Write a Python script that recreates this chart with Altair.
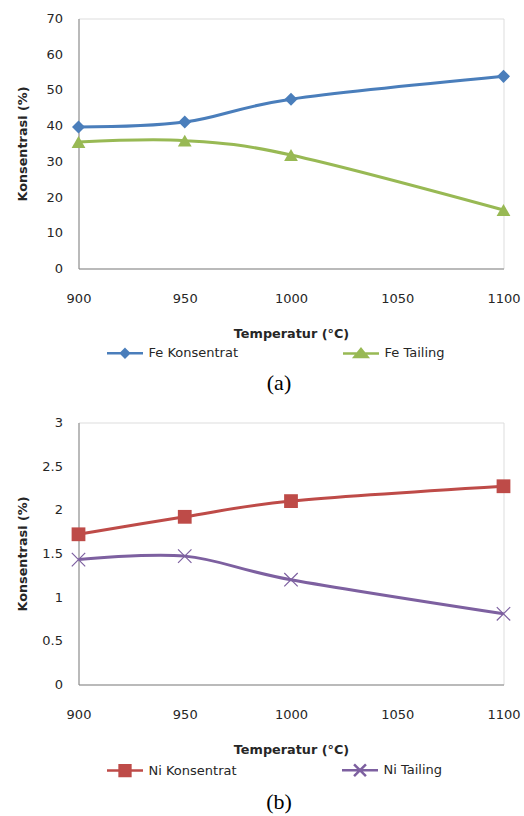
import altair as alt
import pandas as pd

# ---- data ----
temps = [900, 950, 1000, 1100]
fe_konsentrat = [39.6, 41.0, 47.4, 53.8]
fe_tailing = [35.4, 35.8, 31.8, 16.4]
ni_konsentrat = [1.72, 1.92, 2.10, 2.27]
ni_tailing = [1.43, 1.47, 1.20, 0.81]

fe_series = ["Fe Konsentrat", "Fe Tailing"]
ni_series = ["Ni Konsentrat", "Ni Tailing"]
x_ticks = [900, 950, 1000, 1050, 1100]
fe_y_ticks = [0, 10, 20, 30, 40, 50, 60, 70]
ni_y_ticks = [0, 0.5, 1, 1.5, 2, 2.5, 3]

# ---- styles ----
FONT = "DejaVu Sans"
fe_colors = ["#4A7EBB", "#98B954"]
ni_colors = ["#BE4B48", "#7D60A0"]
fe_markers = [
    dict(shape="diamond", filled=True, size=170, sw=1),
    dict(shape="triangle-up", filled=True, size=190, sw=1),
]
ni_markers = [
    dict(shape="square", filled=True, size=190, sw=1),
    dict(shape="M-1,-1L1,1M-1,1L1,-1", filled=False, size=180, sw=1.2),
]
LINE = "M-1,0L1,0"
fe_leg_paths = [
    LINE + "M0,-0.22L0.22,0L0,0.22L-0.22,0Z",
    LINE + "M0,-0.25L0.36,0.2L-0.36,0.2Z",
]
ni_leg_paths = [
    LINE + "M-0.3,-0.3L0.3,-0.3L0.3,0.3L-0.3,0.3Z",
    LINE + "M-0.33,-0.33L0.33,0.33M-0.33,0.33L0.33,-0.33",
]


def panel(series, values, colors, markers, leg_paths, ymax, yticks, yfmt,
          height, caption, legend_y):
    rows = []
    for name, vals in zip(series, values):
        for t, v in zip(temps, vals):
            rows.append({"temp": t, "value": v, "series": name})
    df = pd.DataFrame(rows)
    base = alt.Chart(df)

    x = alt.X(
        "temp:Q",
        scale=alt.Scale(domain=[900, 1100], nice=False, zero=False),
        axis=alt.Axis(
            values=x_ticks, format="d", title="Temperatur (°C)",
            grid=False, ticks=False, tickSize=0,
            domainColor="#868686", domainWidth=1,
            labelFont=FONT, labelFontSize=13, labelColor="#262626",
            labelPadding=30, labelBaseline="middle", labelFlush=False,
            titleFont=FONT, titleFontSize=12.8, titleFontWeight="bold",
            titleColor="#262626", titleY=65, titleBaseline="middle",
        ),
    )
    y = alt.Y(
        "value:Q",
        scale=alt.Scale(domain=[0, ymax], nice=False, zero=True),
        axis=alt.Axis(
            values=yticks, format=yfmt, title="Konsentrasi (%)",
            grid=False, ticks=False, tickSize=0,
            domainColor="#868686", domainWidth=1,
            labelFont=FONT, labelFontSize=13, labelColor="#262626",
            labelPadding=16, labelFlush=False,
            titleFont=FONT, titleFontSize=12.8, titleFontWeight="bold",
            titleColor="#262626", titleX=-56, titleBaseline="middle",
        ),
    )

    layers = []
    for name, color, mk in zip(series, colors, markers):
        sub = base.transform_filter(alt.datum.series == name)
        layers.append(
            sub.mark_line(interpolate="cardinal", color=color, strokeWidth=3)
            .encode(x=x, y=y)
        )
        layers.append(
            sub.mark_point(shape=mk["shape"], filled=mk["filled"], color=color,
                           size=mk["size"], opacity=1, strokeWidth=mk["sw"])
            .encode(x=x, y=y)
        )

    leg = alt.Legend(
        title=None, orient="none", legendX=27, legendY=legend_y,
        direction="horizontal", columns=2, columnPadding=99, padding=0,
        symbolSize=1296, symbolStrokeWidth=2.5,
        labelFont=FONT, labelFontSize=13, labelColor="#262626",
        labelOffset=4,
    )
    legend_layer = (
        base.transform_filter("false")
        .mark_point(filled=True, opacity=1)
        .encode(
            x=x, y=y,
            fill=alt.Fill("series:N", scale=alt.Scale(domain=series, range=colors), legend=leg),
            stroke=alt.Stroke("series:N", scale=alt.Scale(domain=series, range=colors), legend=leg),
            shape=alt.Shape("series:N", scale=alt.Scale(domain=series, range=leg_paths), legend=leg),
        )
    )
    layers.append(legend_layer)

    return alt.layer(*layers).properties(
        width=425, height=height,
        title=alt.TitleParams(
            text=caption, orient="bottom", font="Liberation Serif",
            fontSize=22, fontWeight="normal", color="black",
            offset=10, dx=-12, anchor="middle",
        ),
    )


top = panel(fe_series, [fe_konsentrat, fe_tailing], fe_colors, fe_markers,
            fe_leg_paths, 70, fe_y_ticks, "d", 250, "(a)", 315)
bottom = panel(ni_series, [ni_konsentrat, ni_tailing], ni_colors, ni_markers,
               ni_leg_paths, 3, ni_y_ticks, ".1~f", 262, "(b)", 328)

chart = (
    alt.vconcat(top, bottom, spacing=154, bounds="flush")
    .resolve_scale(fill="independent", stroke="independent", shape="independent")
    .resolve_legend(fill="independent", stroke="independent", shape="independent")
    .properties(padding={"left": 15.5, "top": 11.5, "right": 2, "bottom": 2})
    .configure_view(stroke=None)
    .configure(background="white")
)

chart.save("out.html", embed_options={"renderer": "svg", "actions": False})
